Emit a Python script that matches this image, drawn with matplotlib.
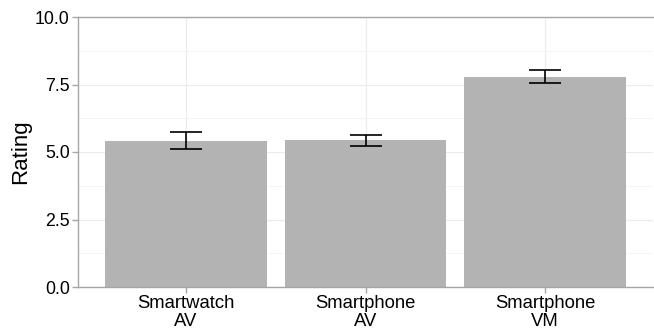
import matplotlib
matplotlib.use("Agg")
import matplotlib.pyplot as plt
import numpy as np

categories = ["Smartwatch\nAV", "Smartphone\nAV", "Smartphone\nVM"]
means = [5.41, 5.44, 7.79]
lower = [5.11, 5.23, 7.56]
upper = [5.73, 5.64, 8.04]
yticks = [0.0, 2.5, 5.0, 7.5, 10.0]

plt.rcParams['font.family'] = ['Liberation Sans', 'DejaVu Sans']

fig = plt.figure(figsize=(6.54, 3.31), dpi=100)
ax = fig.add_axes([78/654, 44/331, (653-78)/654, (314-44)/331])

x = np.arange(1, len(categories) + 1)
ax.set_axisbelow(True)
ax.bar(x, means, width=0.9, color="#B3B3B3", zorder=2)
m = np.array(means)
yerr = [m - np.array(lower), np.array(upper) - m]
ax.errorbar(x, means, yerr=yerr, fmt="none", ecolor="black", elinewidth=1.2,
            capsize=11.5, capthick=1.2, zorder=3)

ax.set_xlim(0.4, 3.6)
ax.set_ylim(0, 10)
ax.set_yticks(yticks)
ax.set_yticklabels([f"{v:.1f}" for v in yticks])
ax.set_yticks([1.25, 3.75, 6.25, 8.75], minor=True)
ax.set_xticks(x)
ax.set_xticklabels(categories)

ax.grid(True, which="major", color="#EBEBEB", linewidth=0.8)
ax.grid(True, which="minor", axis="y", color="#F3F3F3", linewidth=0.6)

for s in ["left", "bottom", "top"]:
    ax.spines[s].set_color("#A6A6A6")
    ax.spines[s].set_linewidth(1.0)
ax.spines["right"].set_visible(False)

ax.tick_params(axis="both", which="major", colors="#A6A6A6", length=4, width=1,
               labelcolor="black", labelsize=12.8)
ax.tick_params(axis="x", labelsize=13.3, pad=2)
ax.tick_params(axis="y", which="minor", length=0)
ax.tick_params(axis="y", pad=2)
for lbl in ax.get_xticklabels():
    lbl.set_linespacing(1.08)

ax.set_ylabel("Rating", fontsize=16, labelpad=3)

fig.savefig("out.png", dpi=100)
